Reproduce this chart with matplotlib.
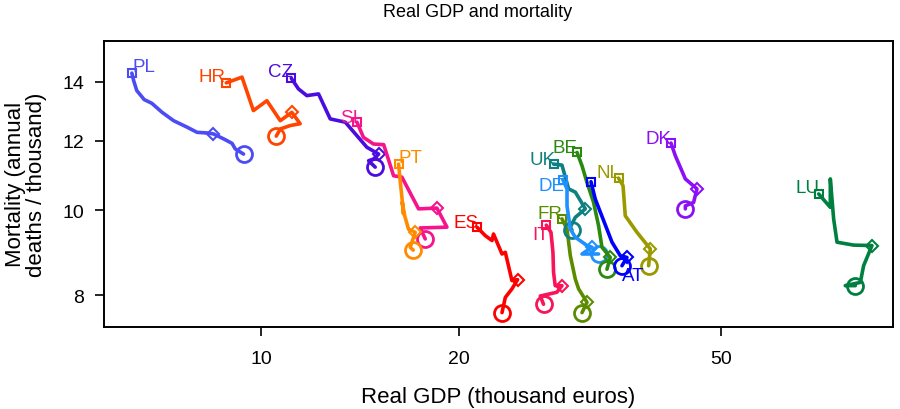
import matplotlib
matplotlib.use("Agg")
import matplotlib.pyplot as plt
from matplotlib.ticker import NullLocator, FixedLocator, FixedFormatter

plt.rcParams['font.family'] = ['Liberation Sans', 'DejaVu Sans']

# trajectories: real GDP (thousand euros), mortality (per thousand)
pl_gdp = [6.36, 6.40, 6.47, 6.64, 6.82, 7.07, 7.36, 7.71, 7.99, 8.27, 8.46, 8.77, 9.03, 9.13, 9.40]
pl_mort = [14.32, 14.04, 13.68, 13.36, 13.23, 12.92, 12.64, 12.43, 12.26, 12.24, 12.21, 12.05, 11.91, 11.74, 11.58]
hr_gdp = [8.85, 9.35, 9.73, 10.20, 10.69, 11.13, 11.46, 11.07, 10.69, 10.54]
hr_mort = [13.96, 14.17, 12.98, 13.32, 12.64, 12.92, 12.54, 12.48, 12.37, 12.14]
cz_gdp = [11.11, 11.39, 11.73, 12.22, 12.73, 13.42, 13.98, 14.47, 15.08, 14.81, 14.56, 14.90]
cz_mort = [14.13, 13.74, 13.50, 13.56, 12.70, 12.59, 12.15, 11.79, 11.58, 11.43, 11.38, 11.19]
si_gdp = [13.98, 14.30, 14.81, 15.35, 15.89, 16.36, 17.34, 18.49, 19.15, 17.44, 17.75]
si_mort = [12.59, 12.10, 11.89, 11.87, 10.94, 10.90, 10.03, 10.05, 9.56, 9.54, 9.27]
pt_gdp = [16.17, 16.26, 16.36, 16.45, 16.38, 16.52, 16.74, 17.14, 16.84, 17.02]
pt_mort = [11.28, 10.80, 10.34, 9.90, 10.20, 9.85, 9.51, 9.43, 9.07, 9.00]
es_gdp = [21.27, 21.90, 22.42, 22.54, 23.22, 23.49, 24.04, 24.52, 24.04, 23.49, 23.22]
es_mort = [9.56, 9.35, 9.23, 9.39, 8.91, 8.95, 8.31, 8.33, 8.13, 7.95, 7.64]
it_gdp = [27.11, 27.56, 27.75, 27.81, 27.97, 28.64, 28.14, 26.55, 26.85]
it_mort = [9.61, 9.43, 8.95, 8.49, 8.20, 8.20, 8.06, 7.98, 7.81]
fr_gdp = [28.64, 29.15, 29.49, 30.01, 30.36, 31.26, 30.72]
fr_mort = [9.77, 9.51, 8.87, 8.34, 8.13, 7.85, 7.64]
uk_gdp = [27.81, 28.64, 29.31, 30.01, 31.08, 30.01, 29.49, 29.66]
uk_mort = [11.28, 11.25, 10.57, 10.48, 10.03, 9.81, 9.56, 9.49]
de_gdp = [28.73, 29.15, 29.15, 29.49, 30.01, 31.26, 31.81, 30.72, 32.55]
de_mort = [10.83, 10.57, 10.11, 9.51, 9.31, 9.11, 9.07, 8.91, 8.91]
be_gdp = [30.19, 30.72, 31.26, 31.99, 32.55, 32.94, 33.91, 33.52]
be_mort = [11.63, 11.23, 10.75, 10.20, 9.60, 9.07, 8.83, 8.56]
at_gdp = [31.70, 32.18, 33.52, 34.12, 35.12, 35.95, 35.33]
at_mort = [10.77, 10.29, 9.51, 9.19, 8.87, 8.83, 8.64]
nl_gdp = [34.91, 35.46, 35.74, 37.24, 39.01, 38.78]
nl_mort = [10.87, 10.66, 9.85, 9.43, 9.03, 8.64]
dk_gdp = [41.94, 42.58, 44.10, 45.93, 45.39, 44.10, 44.10]
dk_mort = [11.92, 11.53, 10.85, 10.57, 10.20, 10.11, 10.03]
lu_gdp = [70.31, 73.23, 73.23, 74.09, 74.97, 79.47, 84.72, 82.28, 81.34, 77.17, 79.93]
lu_mort = [10.43, 10.07, 10.85, 9.77, 9.19, 9.12, 9.11, 8.64, 8.27, 8.20, 8.20]

countries = ['PL', 'HR', 'CZ', 'SI', 'PT', 'ES', 'IT', 'FR', 'UK', 'DE', 'BE', 'AT', 'NL', 'DK', 'LU']
gdp = [pl_gdp, hr_gdp, cz_gdp, si_gdp, pt_gdp, es_gdp, it_gdp, fr_gdp, uk_gdp, de_gdp, be_gdp, at_gdp, nl_gdp, dk_gdp, lu_gdp]
mort = [pl_mort, hr_mort, cz_mort, si_mort, pt_mort, es_mort, it_mort, fr_mort, uk_mort, de_mort, be_mort, at_mort, nl_mort, dk_mort, lu_mort]
# index of the point marked with a diamond
diamond_at = [10, 5, 8, 7, 7, 7, 5, 5, 4, 6, 6, 5, 4, 3, 6]

x_ticks = [10, 20, 50]
y_ticks = [8, 10, 12, 14]

colors = ['#4c4cf5', '#ff4500', '#4b0ce0', '#f5148c', '#ff8c00', '#ff0000', '#f81458',
          '#5b8c00', '#0f8080', '#1e90ff', '#2a8a10', '#0000ff', '#9a9a00', '#8c10f5', '#008040']
# label offsets (points) from the first point (AT is labelled at its last point)
label_off = {'PL': (8.5, 4.5), 'HR': (-10, 4.5), 'CZ': (-7.5, 4.5), 'SI': (-5.5, 3.6),
             'PT': (8.5, 5), 'ES': (-7.6, 3), 'IT': (-4.3, -6.5), 'FR': (-8.6, 3.6),
             'UK': (-7.9, 3), 'DE': (-8.3, -4.3), 'BE': (-9, 3.6), 'NL': (-7.6, 4.3),
             'DK': (-9, 3.6), 'LU': (-7.9, 5), 'AT': (7.9, -7.2)}

fig = plt.figure(figsize=(9, 4.1), dpi=100)
ax = fig.add_axes([0.1156, 0.2, 0.877, 0.6976])

for name, xs, ys, c, d in zip(countries, gdp, mort, colors, diamond_at):
    ax.plot(xs, ys, color=c, lw=2.6, solid_joinstyle='round', solid_capstyle='round')
    ax.plot(xs[0], ys[0], marker='s', ms=6, mfc='none', mec=c, mew=1.5)
    ax.plot(xs[d], ys[d], marker='D', ms=6, mfc='none', mec=c, mew=1.5)
    ax.plot(xs[-1], ys[-1], marker='o', ms=11.5, mfc='none', mec=c, mew=2)
    if name == 'AT':
        anchor = (xs[-1], ys[-1])
    else:
        anchor = (xs[0], ys[0])
    ax.annotate(name, anchor, xytext=label_off[name], textcoords='offset points',
                ha='center', va='center', color=c, fontsize=13.5)

ax.set_xscale('log')
ax.set_yscale('log')
ax.set_xlim(5.77, 91.3)
ax.set_ylim(7.357, 15.58)
ax.xaxis.set_major_locator(FixedLocator(x_ticks))
ax.xaxis.set_major_formatter(FixedFormatter([str(t) for t in x_ticks]))
ax.yaxis.set_major_locator(FixedLocator(y_ticks))
ax.yaxis.set_major_formatter(FixedFormatter([str(t) for t in y_ticks]))
ax.xaxis.set_minor_locator(NullLocator())
ax.yaxis.set_minor_locator(NullLocator())
ax.tick_params(direction='out', length=6.5, width=1.2, labelsize=14)
ax.tick_params(axis='x', pad=10)
ax.tick_params(axis='y', pad=8)
for s in ax.spines.values():
    s.set_linewidth(1.4)

fig.text(0.531, 0.97, 'Real GDP and mortality', ha='center', va='center', fontsize=13)
fig.text(0.553, 0.03, 'Real GDP (thousand euros)', ha='center', va='center', fontsize=16)
fig.text(0.029, 0.549, 'Mortality (annual\ndeaths / thousand)', ha='center', va='center',
         rotation=90, fontsize=16, multialignment='center', linespacing=1.05)

fig.savefig('out.png', dpi=100)
